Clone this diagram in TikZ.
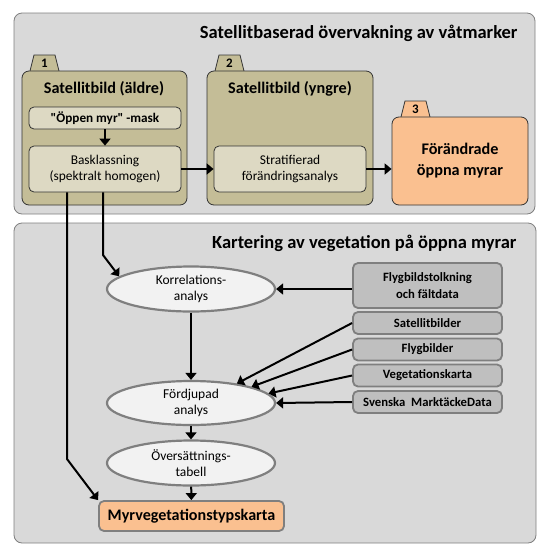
\documentclass[tikz,border=0pt]{standalone}
\usepackage{fontspec}
\setmainfont{Carlito}
\newfontfamily\plainquotes{Carlito}
\usetikzlibrary{arrows.meta,shapes.geometric}
\definecolor{panelgray}{HTML}{D9D9D9}
\definecolor{rimgray}{HTML}{7F7F7F}
\definecolor{folderTan}{HTML}{C4BD97}
\definecolor{stepBeige}{HTML}{DDD9C3}
\definecolor{peach}{HTML}{FAC090}
\definecolor{stone}{HTML}{BFBFBF}
\definecolor{pale}{HTML}{F2F2F2}
\begin{document}
\begin{tikzpicture}[x=1pt,y=-1pt,
    panel/.style={draw=rimgray,fill=panelgray,rounded corners=8pt,line width=0.8pt},
    paneltitle/.style={anchor=east,font=\bfseries\fontsize{18.5}{22}\selectfont},
    folder/.style={draw=black!80,fill=folderTan,rounded corners=7pt,line width=0.8pt},
    foldertitle/.style={font=\bfseries\fontsize{16.2}{19}\selectfont},
    stepbox/.style={draw=black!80,fill=stepBeige,rounded corners=5pt,line width=0.8pt,minimum width=152pt,align=center,font=\fontsize{13.4}{16}\selectfont},
    oval/.style={ellipse,draw=rimgray,fill=pale,line width=2.2pt,minimum width=168pt,minimum height=45pt,inner sep=0pt,align=center,font=\fontsize{13.5}{16.5}\selectfont},
    databox/.style={draw=rimgray,fill=stone,rounded corners=5pt,line width=1.8pt,minimum width=149pt,inner sep=0pt,align=center,font=\bfseries\fontsize{12.7}{16.7}\selectfont},
    arr/.style={-{Triangle[width=11pt,length=7pt]},line width=2pt}]
            \useasboundingbox (0,0) rectangle (549,558);
            \draw[panel] (14,13) rectangle (535,214);
            \node[paneltitle] (t1) at (521,33) {Satellitbaserad övervakning av våtmarker};
            \draw[panel] (14,223) rectangle (536,543);
            \node[paneltitle] (t2) at (520,243) {Kartering av vegetation på öppna myrar};

            \foreach \n/\x/\y/\c in {1/30/71/folderTan,2/215/71/folderTan,3/401/117/peach}
            {
                \draw[folder,sharp corners,fill=\c] (\x,\y) -- (\x+4,\y-16) -- (\x+25,\y-16) -- (\x+29,\y);
                \node (tab\n) at (\x+14.5,\y-8) [font=\bfseries\fontsize{13}{15}\selectfont] {\n};
            }
            \node (old) at (104.5,138) [folder,minimum width=165pt,minimum height=134pt] {};
            \node (new) at (290,138) [folder,minimum width=166pt,minimum height=134pt] {};
            \node (chg) at (460,161) [folder,fill=peach,minimum width=136pt,minimum height=88pt,align=center,font=\bfseries\fontsize{16.2}{21}\selectfont] {Förändrade\\öppna myrar};
            \node (oldt) at (104,89) [foldertitle] {Satellitbild (äldre)};
            \node (newt) at (290,89) [foldertitle] {Satellitbild (yngre)};
            \node (mask) at (105,118) [stepbox,minimum height=22pt,font=\plainquotes\bfseries\fontsize{13.2}{15}\selectfont] {"Öppen myr" -mask};
            \node (bask) at (105,169) [stepbox,minimum height=46pt] {Basklassning\\(spektralt homogen)};
            \node (strat) at (290,169) [stepbox,minimum height=46pt] {Stratifierad\\förändringsanalys};

            \node (korr) at (191,289) [oval] {Korrelations-\\analys};
            \node (ford) at (191,403) [oval,minimum height=44pt] {Fördjupad\\analys};
            \node (overs) at (191,463) [oval] {Översättnings-\\tabell};
            \node (myr) at (191.5,516) [draw=rimgray,fill=peach,rounded corners=5pt,line width=1.8pt,minimum width=185pt,minimum height=30pt,font=\bfseries\fontsize{16.1}{19}\selectfont] {Myrvegetationstypskarta};

            \node (flyg) at (427.5,285.5) [databox,minimum height=45pt] {Flygbildstolkning\\och fältdata};
            \foreach \s/\y/\t/\a in {sat/323/Satellitbilder/23,flyb/349.5/Flygbilder/15,veg/375.5/Vegetationskarta/7,smd/402/Svenska~ MarktäckeData/0}
            {
                \node (\s) at (427.5,\y) [databox,minimum height=22pt] {\t};
                \draw[arr] (\s.west) -- (ford.\a);
            }

            \draw[arr] (mask) -- (bask);
            \draw[arr] (bask) -- (strat);
            \draw[arr] (strat.east) -- (strat.east -| chg.west);
            \coordinate (kbend) at (103,255);
            \coordinate (mbend) at (67,459);
            \draw[arr] (bask.south -| kbend) -- (kbend) -- (korr.170);
            \draw[arr] (bask.south -| mbend) -- (mbend) -- (myr.north west);
            \draw[arr] (flyg.west |- korr) -- (korr);
            \draw[arr] (korr) -- (ford);
            \draw[arr] (ford) -- (overs);
            \draw[arr] (overs) -- (myr);
        \end{tikzpicture}
\end{document}
